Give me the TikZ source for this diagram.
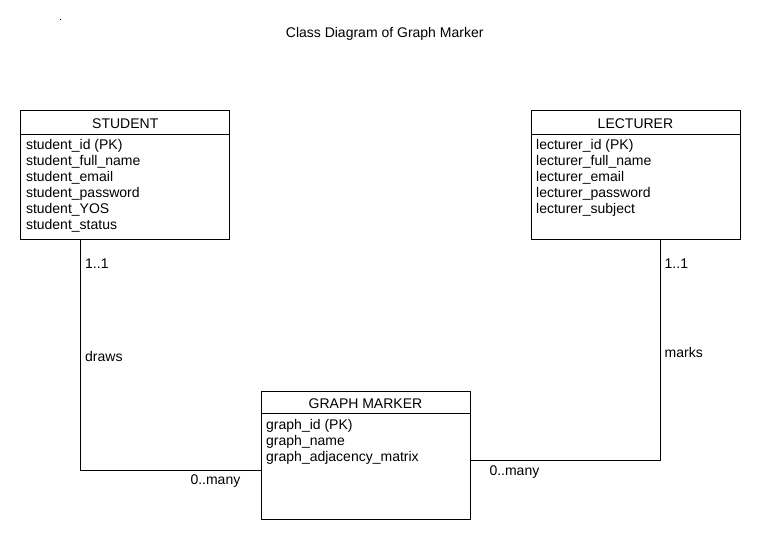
\documentclass[tikz,border=0pt]{standalone}
\usepackage{fontspec}
\setmainfont{Liberation Sans}
\begin{document}
\begin{tikzpicture}[x=1pt,y=-1pt,
  entity/.style={draw, line width=0.9pt, minimum width=209pt, minimum height=128.5pt, anchor=north west, inner sep=0pt},
  hdr/.style={anchor=base, inner sep=0pt, font=\fontsize{14}{16}\selectfont},
  attr/.style={anchor=base west, inner sep=0pt, font=\fontsize{14}{16}\selectfont},
  lbl/.style={anchor=base west, inner sep=0pt, font=\fontsize{14}{16}\selectfont},
  conn/.style={line width=0.9pt}]
\useasboundingbox (0,0) rectangle (760,540);
\fill (60.5,19.5) circle (0.6);
\node[anchor=base, inner sep=0pt, font=\fontsize{14}{16}\selectfont] (title) at (384.7,37.7) {Class Diagram of Graph Marker};

% STUDENT
\node[entity] (student) at (20.3,110.3) {};
\draw[conn] ([yshift=-23.7pt]student.north west) -- ([yshift=-23.7pt]student.north east);
\node[hdr] (studenth) at ([yshift=-18.2pt]student.north) {STUDENT};
\foreach \t [count=\i] in {student\_id (PK),student\_full\_name,student\_email,student\_password,student\_YOS,student\_status}
  \node[attr] (studenta\i) at ([xshift=5.5pt,yshift={-38.8pt-16pt*(\i-1)}]student.north west) {\t};

% LECTURER
\node[entity] (lecturer) at (530.5,110.3) {};
\draw[conn] ([yshift=-23.7pt]lecturer.north west) -- ([yshift=-23.7pt]lecturer.north east);
\node[hdr] (lecturerh) at ([yshift=-18.2pt]lecturer.north) {LECTURER};
\foreach \t [count=\i] in {lecturer\_id (PK),lecturer\_full\_name,lecturer\_email,lecturer\_password,lecturer\_subject}
  \node[attr] (lecturera\i) at ([xshift=5.5pt,yshift={-38.8pt-16pt*(\i-1)}]lecturer.north west) {\t};

% GRAPH MARKER
\node[entity] (gm) at (260.5,390.7) {};
\draw[conn] ([yshift=-23pt]gm.north west) -- ([yshift=-23pt]gm.north east);
\node[hdr] (gmh) at ([yshift=-17.8pt]gm.north) {GRAPH MARKER};
\foreach \t [count=\i] in {graph\_id (PK),graph\_name,graph\_adjacency\_matrix}
  \node[attr] (gma\i) at ([xshift=5.5pt,yshift={-38.6pt-16pt*(\i-1)}]gm.north west) {\t};

% connectors
\draw[conn] ([xshift=60pt]student.south west) |- ([yshift=-79.3pt]gm.north west);
\draw[conn] ([xshift=130pt]lecturer.south west) |- ([yshift=-69.3pt]gm.north east);

% labels
\node[lbl] (s11) at (85,268.3) {1..1};
\node[lbl] (sdraws) at (85,361.7) {draws};
\node[lbl] (smany) at (190.3,484) {0..many};
\node[lbl] (l11) at (664.5,268.3) {1..1};
\node[lbl] (lmarks) at (664.5,357.3) {marks};
\node[lbl] (lmany) at (489.3,475) {0..many};
\end{tikzpicture}
\end{document}
